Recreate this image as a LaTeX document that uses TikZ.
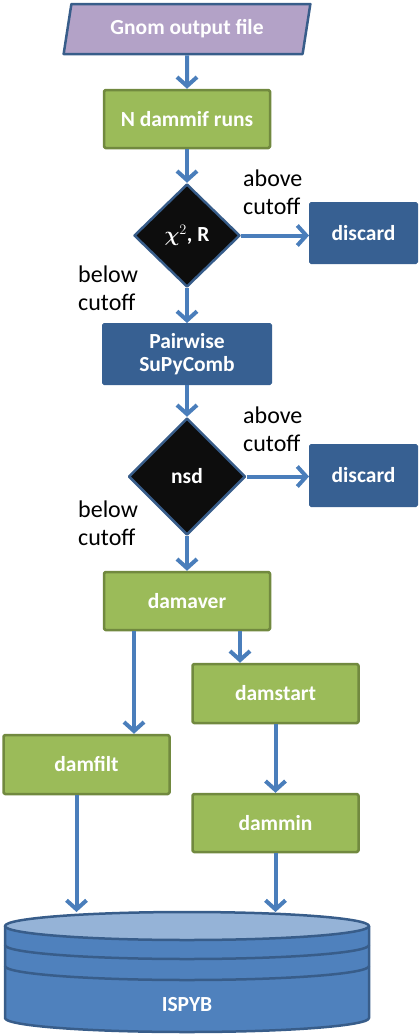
\documentclass[tikz,border=0pt]{standalone}
\usepackage{amsmath,bm}
\usepackage{fontspec}
\setmainfont{Carlito}
\usepackage{tikz}
\usetikzlibrary{arrows.meta,positioning,shapes.geometric}
\definecolor{dfGreen}{HTML}{9BBB59}
\definecolor{dfGreenLine}{HTML}{71893F}
\definecolor{dfNavy}{HTML}{376092}
\definecolor{dfBlue}{HTML}{4F81BD}
\definecolor{dfBlueLine}{HTML}{385D8A}
\definecolor{dfPale}{HTML}{95B3D7}
\definecolor{dfLilac}{HTML}{B3A2C7}
\definecolor{dfArrow}{HTML}{4A7EBB}
\tikzset{
  df diagram/.style={x=1pt, y=1pt, line join=round},
  df label/.style={font=\bfseries\fontsize{21.5}{26}\selectfont, text=white},
  df box/.style={df label, rectangle, draw=dfGreenLine, fill=dfGreen,
    line width=2.5pt, rounded corners=1.5pt, minimum width=166pt,
    minimum height=58pt, inner sep=2pt, align=center},
  df dark box/.style={df box, draw=dfNavy, fill=dfNavy, line width=1pt},
  df input/.style={df label, trapezium, trapezium left angle=78,
    trapezium right angle=102, trapezium stretches=true, draw=dfBlueLine,
    fill=dfLilac, line width=2.5pt, minimum width=247pt, minimum height=50pt},
  df test/.style={df label, diamond, draw=dfBlueLine, fill=black!95,
    line width=2.5pt, inner sep=0pt},
  df arrow/.style={-{Straight Barb[length=9pt,width=20pt]}, draw=dfArrow,
    line width=4pt},
  df note/.style={font=\fontsize{24}{27.5}\selectfont, align=left, inner sep=0pt},
  df drum/.style={draw=dfBlueLine, line width=2.5pt}
}
\begin{document}
\begin{tikzpicture}[df diagram]
\useasboundingbox (0,0) rectangle (420,-1034);
% main column
\node[df input] (gnom) at (187,-29) {Gnom output file};
\node[df box] (dammif) at (187,-119) {N dammif runs};
\node[df test, minimum width=106pt, minimum height=103pt] (chi) at (187,-235.5)
  {$\boldsymbol{\chi}^{2}$, R};
\node[df dark box, minimum width=108pt, minimum height=61pt] (discA) at (363.5,-233) {discard};
\node[df dark box, minimum width=169pt, minimum height=61pt] (pairwise) at (187,-354)
  {Pairwise\\[-3pt]SuPyComb};
\node[df test, minimum width=117pt, minimum height=117pt] (nsd) at (187,-476.5) {nsd};
\node[df dark box, minimum width=108pt, minimum height=62pt] (discB) at (363.5,-475.5) {discard};
\node[df box] (damaver) at (187,-601) {damaver};
\node[df box, minimum height=59pt] (damstart) at (275.5,-693.5) {damstart};
\node[df box, minimum height=59pt] (damfilt) at (86.5,-764.5) {damfilt};
\node[df box] (dammin) at (275.5,-823) {dammin};
% cutoff notes
\node[df note, anchor=north west] (aboveA) at (243,-170) {above\\cutoff};
\node[df note, anchor=north west] (belowA) at (78,-266) {below\\cutoff};
\node[df note, anchor=north west] (aboveB) at (243,-407) {above\\cutoff};
\node[df note, anchor=north west] (belowB) at (78,-501) {below\\cutoff};
% database drum
\draw[df drum, fill=dfBlue] (5,-926) -- (5,-1018)
  arc[start angle=180, end angle=360, x radius=182pt, y radius=14pt] -- (369,-926) -- cycle;
\foreach \y in {945,966}
  \draw[df drum] (5,-\y) arc[start angle=180, end angle=360, x radius=182pt, y radius=14pt];
\draw[df drum, fill=dfPale] (187,-926) ellipse [x radius=182pt, y radius=14pt];
\node[df label] (ispyb) at (187,-1005) {ISPYB};
\coordinate (dbtop) at (187,-912);
% connectors
\draw[df arrow] (gnom.south) -- (dammif.north);
\draw[df arrow] (dammif.south) -- (chi.north);
\draw[df arrow] (chi.east) -- (chi.east -| discA.west);
\draw[df arrow] (chi.south) -- (pairwise.north);
\draw[df arrow] (pairwise.south) -- (nsd.north);
\draw[df arrow] (nsd.east) -- (nsd.east -| discB.west);
\draw[df arrow] (nsd.south) -- (damaver.north);
\draw[df arrow] ([xshift=-53pt]damaver.south) -- ([xshift=-53pt]damaver.south |- damfilt.north);
\draw[df arrow] ([xshift=53pt]damaver.south) -- ([xshift=53pt]damaver.south |- damstart.north);
\draw[df arrow] (damstart.south) -- (dammin.north);
\draw[df arrow] ([xshift=-10pt]damfilt.south) -- ([xshift=-10pt]damfilt.south |- dbtop);
\draw[df arrow] (dammin.south) -- (dammin.south |- dbtop);
\end{tikzpicture}
\end{document}
